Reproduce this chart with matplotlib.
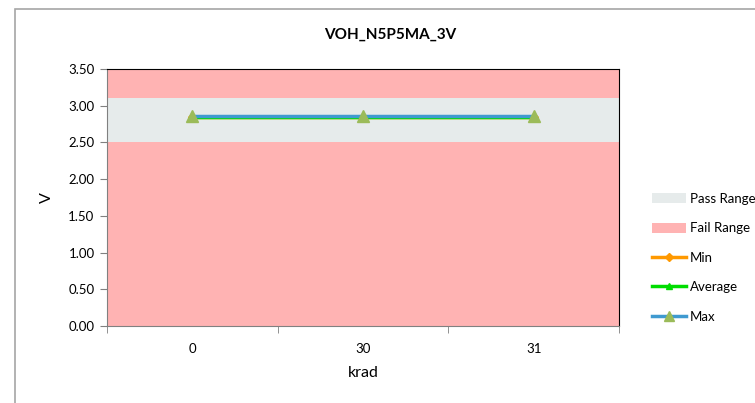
import numpy as np
import matplotlib
matplotlib.use("Agg")
import matplotlib.pyplot as plt
from matplotlib.patches import Rectangle, Patch
from matplotlib.lines import Line2D

plt.rcParams['font.family'] = ['Lato', 'DejaVu Sans']

categorias = ['0', '30', '31']
v_min = [2.85, 2.85, 2.85]
v_avg = [2.85, 2.85, 2.85]
v_max = [2.86, 2.86, 2.86]
pasa_bajo = 2.5
pasa_alto = 3.1
y_max = 3.5

W, H = 755, 403
fig = plt.figure(figsize=(W / 100, H / 100), dpi=100)
fig.patch.set_facecolor('white')

# marco del grafico
fig.patches.append(Rectangle((15 / W, -0.1), 1.2, 1 - 9 / H + 0.1, transform=fig.transFigure,
                             fill=False, edgecolor='#a6a6a6', linewidth=1.2))

ax = fig.add_axes([107 / W, 1 - 326 / H, (619 - 107) / W, (326 - 69) / H])
x = np.arange(len(categorias))
xr = [-0.5, len(categorias) - 0.5]

ax.fill_between(xr, 0, pasa_bajo, color='#ffb3b3', linewidth=0)
ax.fill_between(xr, pasa_bajo, pasa_alto, color='#e6ebeb', linewidth=0)
ax.fill_between(xr, pasa_alto, y_max, color='#ffb3b3', linewidth=0)

ax.plot(x, v_min, color='#ff9900', linewidth=2.5, marker='D', markersize=4)
ax.plot(x, v_avg, color='#00dd00', linewidth=2.5, marker='^', markersize=5)
ax.plot(x, v_max, color='#3f9ad0', linewidth=2.5, marker='^', markersize=8.5,
        markerfacecolor='#9bbb59', markeredgecolor='#9bbb59')

ax.set_xlim(xr)
ax.set_ylim(0, y_max)
ax.set_yticks(np.arange(0, 3.51, 0.5))
ax.set_yticklabels(['%.2f' % v for v in np.arange(0, 3.51, 0.5)], fontsize=9.5)
ax.set_xticks(x)
ax.set_xticklabels(categorias, fontsize=9.5)
ax.set_xticks(np.arange(-0.5, len(categorias), 1), minor=True)
ax.tick_params(axis='x', which='major', length=0, pad=12)
ax.tick_params(axis='x', which='minor', length=5, color='#808080', direction='out')
ax.tick_params(axis='y', length=5, color='#808080', direction='out', pad=4)

ax.spines['left'].set_color('#808080')
ax.spines['bottom'].set_color('#808080')
ax.spines['top'].set_color('black')
ax.spines['right'].set_color('black')

ax.set_xlabel('krad', fontsize=11.5, labelpad=8)
ax.set_ylabel('V', fontsize=11.5, labelpad=10)
fig.text(390 / W, 1 - 35 / H, 'VOH_N5P5MA_3V', ha='center', va='center',
         fontsize=11, fontweight='bold')

handles = [
    Patch(facecolor='#e6ebeb', edgecolor='none'),
    Patch(facecolor='#ffb3b3', edgecolor='none'),
    Line2D([], [], color='#ff9900', linewidth=2.5, marker='D', markersize=4),
    Line2D([], [], color='#00dd00', linewidth=2.5, marker='^', markersize=5),
    Line2D([], [], color='#3f9ad0', linewidth=2.5, marker='^', markersize=7,
           markerfacecolor='#9bbb59', markeredgecolor='#9bbb59'),
]
labels = ['Pass Range', 'Fail Range', 'Min', 'Average', 'Max']
fig.legend(handles, labels, loc='upper left', bbox_to_anchor=(640 / W, 1 - 181 / H),
           frameon=False, fontsize=9.5, labelspacing=1.32, handlelength=2.6,
           handletextpad=0.3, handleheight=0.8)

fig.savefig('out.png', dpi=100)
